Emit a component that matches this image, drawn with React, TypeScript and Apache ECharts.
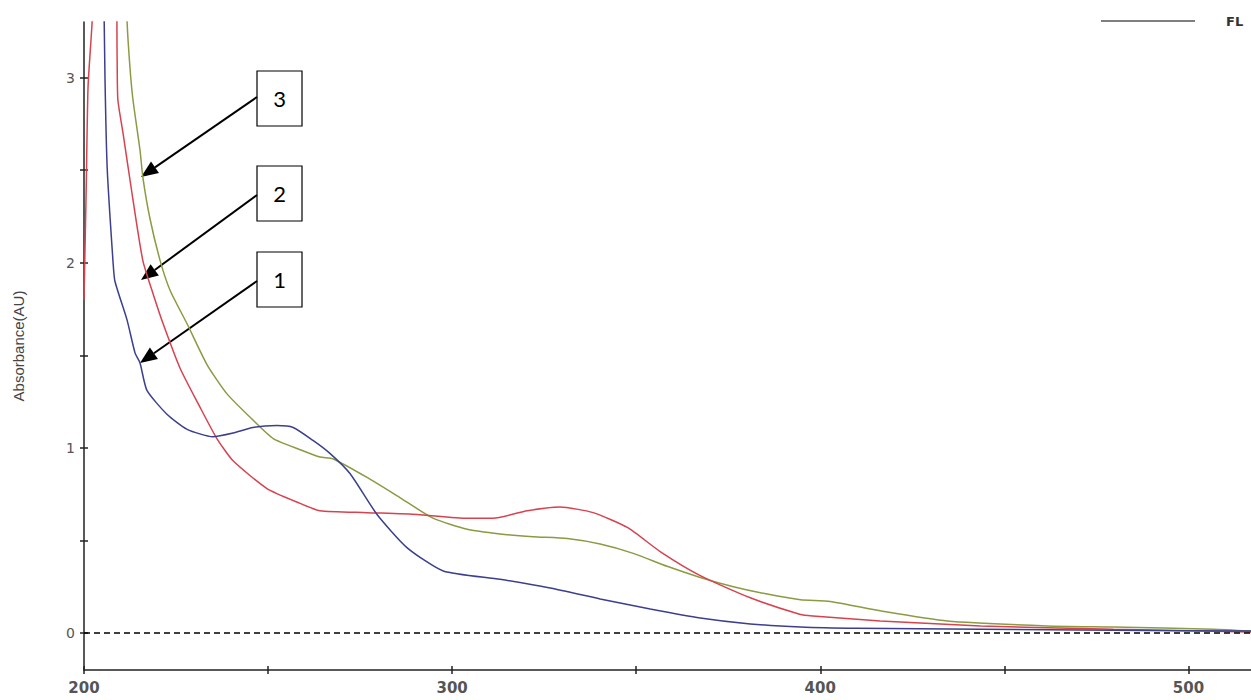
import React, { useEffect, useRef } from "react";
import * as echarts from "echarts";

// Sample 1 (blue)
const wl1 = [205.3, 205.7, 206.3, 207.9, 208.4, 211.7, 213.9, 215.2, 217.1, 222.6, 228, 235, 240.5, 245.9, 252.4, 256.8, 262.2, 266.8, 272.3, 279.6, 287.8, 297.6, 313, 326.6, 340.2, 353.8, 367.4, 381, 394.6, 410, 443.5, 480, 517];
const abs1 = [3.6, 3.0, 2.51, 2.0, 1.9, 1.69, 1.51, 1.46, 1.31, 1.18, 1.1, 1.06, 1.08, 1.11, 1.12, 1.11, 1.04, 0.97, 0.86, 0.64, 0.46, 0.335, 0.29, 0.243, 0.184, 0.13, 0.081, 0.049, 0.032, 0.025, 0.02, 0.015, 0.01];

// Sample 2 (red)
const wl2 = [200, 200.6, 201.1, 202.2, 202.6, 208.6, 209, 209.2, 210.6, 213.3, 216, 218.8, 221.5, 226.1, 231.5, 236.1, 240.5, 249.7, 258.7, 264.1, 276.9, 290.5, 304.1, 311.1, 320.4, 329.3, 338.3, 347.6, 356.5, 367.4, 381, 394.6, 398, 416.3, 443.5, 479.6, 517];
const abs2 = [1.8, 2.4, 2.95, 3.3, 3.6, 3.6, 3.1, 2.88, 2.7, 2.34, 2.01, 1.83, 1.67, 1.43, 1.22, 1.05, 0.93, 0.78, 0.7, 0.66, 0.65, 0.64, 0.62, 0.62, 0.66, 0.68, 0.65, 0.57, 0.44, 0.31, 0.19, 0.1, 0.092, 0.065, 0.038, 0.02, 0.005];

// Sample 3 (olive)
const wl3 = [211.2, 211.7, 212.5, 213.3, 215.2, 216, 217.9, 220.7, 223.4, 228, 233.4, 238.9, 245.9, 251.4, 258.7, 264.1, 267.7, 276.9, 285.9, 294.8, 304.1, 313, 322, 331.3, 340.2, 349.2, 358.4, 367.4, 376.4, 385.6, 394.6, 402.7, 416.3, 434.5, 461.7, 479.6, 506.8, 517];
const abs3 = [3.6, 3.3, 3.05, 2.88, 2.61, 2.46, 2.24, 2.01, 1.85, 1.67, 1.45, 1.29, 1.15, 1.05, 0.99, 0.95, 0.94, 0.84, 0.73, 0.62, 0.56, 0.535, 0.52, 0.51, 0.48, 0.43, 0.36, 0.3, 0.25, 0.21, 0.18, 0.17, 0.12, 0.065, 0.038, 0.032, 0.02, 0.01];

const xTicks = [200, 250, 300, 350, 400, 450, 500];
const xLabels = [200, 300, 400, 500];
const yTicks = [0, 0.5, 1, 1.5, 2, 2.5, 3];
const yLabels = [0, 1, 2, 3];
const boxLabels = ["3", "2", "1"];
const legendText = "FL";

const zip = (xs: number[], ys: number[]) => xs.map((x, i) => [x, ys[i]]);

function arrow(x1: number, y1: number, x2: number, y2: number) {
  const dx = x2 - x1, dy = y2 - y1;
  const len = Math.sqrt(dx * dx + dy * dy);
  const ux = dx / len, uy = dy / len;
  const hl = 17, hw = 7;
  const bx = x2 - ux * hl, by = y2 - uy * hl;
  const px = -uy, py = ux;
  return [
    { type: "line", shape: { x1, y1, x2: bx, y2: by }, style: { stroke: "#000", lineWidth: 2 } },
    {
      type: "polygon",
      shape: { points: [[x2, y2], [bx + px * hw, by + py * hw], [bx - px * hw, by - py * hw]] },
      style: { fill: "#000" },
    },
  ];
}

export default function App() {
  const ref = useRef<HTMLDivElement>(null);
  useEffect(() => {
    document.body.style.margin = "0";
    const chart = echarts.init(ref.current!, null, { renderer: "svg" });
    const boxes = [
      { y: 71, tipX: 141, tipY: 177, fromY: 97 },
      { y: 166, tipX: 141, tipY: 280, fromY: 195 },
      { y: 252, tipX: 140, tipY: 363, fromY: 281 },
    ];
    const graphics: any[] = [];
    boxes.forEach((b, i) => {
      graphics.push({
        type: "rect",
        shape: { x: 257, y: b.y, width: 45, height: 55 },
        style: { fill: "#fff", stroke: "#000", lineWidth: 1.2 },
      });
      graphics.push({
        type: "text",
        x: 279.5,
        y: b.y + 27.5,
        style: { text: boxLabels[i], font: "22px Lato, 'Open Sans', sans-serif", fill: "#000", align: "center", verticalAlign: "middle" },
      });
      graphics.push(...arrow(257, b.fromY, b.tipX, b.tipY));
    });
    graphics.push({ type: "line", shape: { x1: 1101, y1: 21, x2: 1195, y2: 21 }, style: { stroke: "#555", lineWidth: 1.5 } });
    graphics.push({
      type: "text",
      x: 1226,
      y: 21,
      style: { text: legendText, font: "bold 13px 'DejaVu Sans', sans-serif", fill: "#333", verticalAlign: "middle" },
    });

    const tickStyle = { color: "#222", width: 1.5 };
    const lineSeries = (name: string, xs: number[], ys: number[], color: string, z: number) => ({
      type: "line",
      name,
      data: zip(xs, ys),
      showSymbol: false,
      smooth: 0.2,
      clip: true,
      lineStyle: { color, width: 1.5 },
      itemStyle: { color },
      z,
    });
    const s1: any = lineSeries("1", wl1, abs1, "#3b3f8e", 3);
    s1.markLine = {
      silent: true,
      symbol: "none",
      label: { show: false },
      lineStyle: { color: "#000", type: [6, 4], width: 1.5 },
      data: [{ yAxis: 0 }],
    };
    chart.setOption({
      animation: false,
      backgroundColor: "#fff",
      grid: { left: 84, right: 0, top: 22, bottom: 30, containLabel: false },
      xAxis: [
        {
          type: "value",
          min: 200,
          max: 517,
          axisLine: { onZero: false, lineStyle: { color: "#222", width: 1.5 } },
          axisTick: { show: true, length: 4, customValues: xTicks, lineStyle: tickStyle },
          axisLabel: { customValues: xLabels, color: "#555", fontFamily: "'DejaVu Sans', sans-serif", fontWeight: "bold", fontSize: 15, margin: 10 },
          splitLine: { show: false },
        },
        {
          type: "value",
          min: 200,
          max: 517,
          position: "bottom",
          axisLine: { show: false, onZero: false },
          axisTick: { show: true, inside: true, length: 4, customValues: xTicks, lineStyle: tickStyle },
          axisLabel: { show: false },
          splitLine: { show: false },
        },
      ],
      yAxis: [
        {
          type: "value",
          min: -0.2,
          max: 3.3,
          name: "Absorbance(AU)",
          nameLocation: "middle",
          nameGap: 58,
          nameTextStyle: { color: "#444", fontFamily: "'Liberation Sans Narrow', 'Liberation Sans', sans-serif", fontSize: 15 },
          axisLine: { show: true, onZero: false, lineStyle: { color: "#222", width: 1.5 } },
          axisTick: { show: true, length: 4, customValues: yTicks, lineStyle: tickStyle },
          axisLabel: { customValues: yLabels, color: "#555", fontFamily: "'DejaVu Sans', sans-serif", fontSize: 14, margin: 9 },
          splitLine: { show: false },
        },
        {
          type: "value",
          min: -0.2,
          max: 3.3,
          position: "left",
          axisLine: { show: false, onZero: false },
          axisTick: { show: true, inside: true, length: 4, customValues: yTicks, lineStyle: tickStyle },
          axisLabel: { show: false },
          splitLine: { show: false },
        },
      ],
      series: [
        s1,
        lineSeries("2", wl2, abs2, "#d6434f", 2),
        lineSeries("3", wl3, abs3, "#8c9a42", 1),
      ],
      graphic: graphics,
    });
    return () => chart.dispose();
  }, []);
  return <div ref={ref} style={{ width: 1251, height: 700 }} />;
}
